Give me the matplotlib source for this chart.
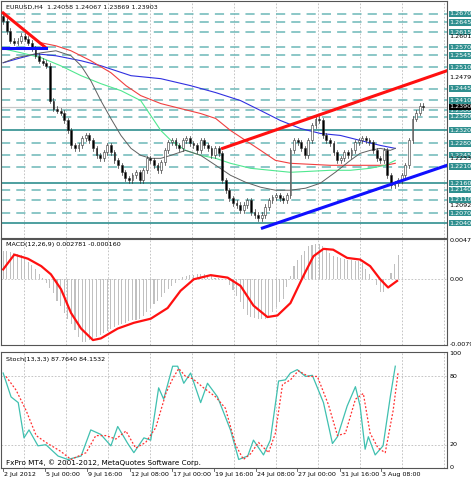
import matplotlib
matplotlib.use("Agg")
import matplotlib.pyplot as plt
import numpy as np

closes = [1.2649,1.2619,1.2589,1.2583,1.2589,1.2604,1.2595,1.2583,1.2565,1.2544,1.2529,1.2523,1.2514,1.2409,1.2385,1.2379,1.2373,1.2349,1.2319,1.2274,1.2265,1.2274,1.2295,1.2304,1.2289,1.2265,1.2244,1.2235,1.2253,1.2274,1.2253,1.2229,1.2214,1.2193,1.2175,1.2169,1.2184,1.2193,1.2169,1.2199,1.2235,1.2229,1.2214,1.2199,1.2223,1.2259,1.2283,1.2289,1.2274,1.2265,1.2289,1.2295,1.2280,1.2274,1.2259,1.2289,1.2274,1.2265,1.2244,1.2265,1.2250,1.2169,1.2139,1.2115,1.2100,1.2094,1.2079,1.2094,1.2109,1.2073,1.2064,1.2055,1.2064,1.2088,1.2109,1.2118,1.2124,1.2115,1.2109,1.2124,1.2259,1.2289,1.2283,1.2265,1.2244,1.2289,1.2334,1.2355,1.2349,1.2304,1.2289,1.2280,1.2253,1.2229,1.2235,1.2253,1.2244,1.2259,1.2283,1.2289,1.2295,1.2289,1.2283,1.2259,1.2235,1.2229,1.2259,1.2184,1.2154,1.2160,1.2169,1.2184,1.2214,1.2289,1.2355,1.2373,1.2394,1.2390]
first_open = 1.2665

ma_gray_x = [0,3.6,10.6,14.7,18.9,21.7,24.4,27.2,30,32.8,35.6,38.3,41.1,43.9,46.7,50.8,55,59.2,63.3,67.5,71.7,75.8,80,84.2,88.3,92.5,96.7,99.4,102.2,105,107.8,109.2]
ma_gray_y = [1.2523,1.2538,1.2553,1.2559,1.2544,1.2514,1.2469,1.2409,1.2355,1.2304,1.2265,1.2244,1.2235,1.2235,1.2244,1.2259,1.2244,1.2214,1.2184,1.2163,1.2148,1.2139,1.2139,1.2145,1.2160,1.2193,1.2229,1.2250,1.2259,1.2265,1.2259,1.2265]
ma_green_x = [0,5,10.6,16,21.7,27.2,32.8,38.3,41.1,43.9,46.7,50.8,55,59.2,63.3,68.9,74.4,80,85.6,91.1,96.7,102.2,106.4,109.2]
ma_green_y = [1.2565,1.2553,1.2538,1.2514,1.2484,1.2460,1.2439,1.2409,1.2364,1.2319,1.2289,1.2259,1.2244,1.2235,1.2220,1.2205,1.2199,1.2193,1.2196,1.2199,1.2199,1.2205,1.2214,1.2229]
ma_red_x = [10.6,14.7,18.9,24.4,30,34.2,38.3,43.9,49.4,55,59.2,63.3,67.5,71.7,75.8,80,85.6,91.1,96.7,102.2,106.4,109.2]
ma_red_y = [1.2583,1.2574,1.2559,1.2529,1.2493,1.2454,1.2424,1.2400,1.2385,1.2370,1.2355,1.2319,1.2289,1.2259,1.2229,1.2220,1.2217,1.2214,1.2214,1.2214,1.2214,1.2220]
ma_blue_x = [0,5,9.2,14.7,21.7,27.2,35.6,43.9,52.2,59.2,66.1,71.7,77.2,82.8,88.3,93.9,99.4,105,109.2]
ma_blue_y = [1.2523,1.2538,1.2550,1.2544,1.2529,1.2514,1.2484,1.2475,1.2454,1.2433,1.2409,1.2379,1.2349,1.2325,1.2310,1.2304,1.2289,1.2274,1.2265]

trend_red_down = ([0, 11.9], [1.2673, 1.2568])
trend_blue_flat = ([0, 11.9], [1.2568, 1.2568])
trend_red_up = ([61.1, 123.6], [1.2265, 1.2499])
trend_blue_up = ([72.2, 123.6], [1.2025, 1.2214])

dashed_levels = [1.2670,1.2645,1.2615,1.2570,1.2545,1.2510,1.2445,1.2410,1.2380,1.2360,1.2280,1.2245,1.2210,1.2140,1.2110,1.2070]
solid_levels = [1.2320,1.2160,1.2040]
scale_labels = [1.26015,1.24790,1.22330,1.20925]
last_price = 1.23903

macd_hist = [3.5,3.4,3.3,3.2,3.1,3.0,2.6,2.1,1.7,1.2,0.6,0.1,-0.5,-1.1,-1.7,-2.6,-3.3,-4.1,-4.8,-5.5,-6.2,-7.0,-7.6,-7.6,-7.4,-7.2,-7.0,-6.8,-6.6,-6.3,-6.1,-5.8,-5.6,-5.4,-5.3,-5.1,-5.0,-4.9,-4.8,-4.5,-4.0,-3.5,-3.0,-2.6,-2.1,-1.7,-1.2,-0.8,-0.4,0.0,0.3,0.4,0.5,0.5,0.6,0.6,0.6,0.5,0.4,0.2,0.1,0.05,0.0,-0.7,-1.3,-2.0,-2.8,-3.6,-4.4,-4.6,-4.7,-4.8,-4.8,-4.8,-4.7,-4.0,-3.4,-2.8,-2.4,-1.0,0.4,1.6,2.3,3.0,3.5,4.0,4.2,4.3,4.3,4.0,3.6,3.2,2.8,2.7,2.6,2.5,2.4,2.3,2.2,2.2,2.0,1.3,0.6,0.0,-0.7,-1.5,-1.5,0.0,0.8,1.8,3.0]
macd_sig_x = [0,3.1,6.9,10.6,13.3,16.1,18.9,21.7,25,27.2,31.9,36.4,41.1,45.8,49.4,53.1,57.8,62.5,66.1,69.7,73.6,76.4,80,83.6,86.4,89.2,91.9,95.8,99.4,102.2,105,107.2,109.7]
macd_sig_y = [1.2,3.0,2.5,1.6,0.6,-1.2,-4.1,-6.0,-7.4,-7.2,-6.0,-5.3,-4.8,-3.5,-1.4,0.0,0.5,0.2,-0.8,-3.2,-4.6,-4.4,-2.9,0.4,2.8,3.7,3.6,2.6,2.4,1.6,0.0,-1.0,-0.2]

stoch_k_x = [0,2.2,4.2,5.8,7.2,9.7,11.9,15.3,18,21.7,24.4,27.2,30,31.9,34.7,36.4,39.2,41.1,43.3,44.7,47.2,48.6,50.3,52.2,55,56.9,59.7,63.3,65.6,68.1,69.7,72.5,74.4,76.7,78.6,80,81.9,84.2,86.1,89.2,91.7,93.1,95.8,98.1,99.4,100.8,101.7,103.6,105.8,107.8,109.2]
stoch_k_y = [83,62,57,26,33,19,20,10,7,10,33,29,19,36,21,13,26,24,70,60,89,89,74,83,57,74,62,33,7,10,24,11,24,76,77,83,86,80,81,57,21,27,54,71,54,16,27,11,19,62,89]
stoch_d_x = [0.8,3.6,6.4,9.2,11.9,16.1,18.9,23.1,25.8,28.6,31.4,34.2,36.9,39.7,42.5,45.3,47.2,48.9,50.8,52.8,55.8,59.2,61.9,64.7,66.9,68.9,71.1,73.9,75.8,77.8,80,82.2,85,87.5,90.6,93.1,95.3,98.1,100.3,102.2,104.4,106.4,108.6,110]
stoch_d_y = [80,68,50,28,22,14,7,13,28,28,25,32,17,22,35,65,78,87,80,78,70,62,52,20,7,12,22,13,30,73,77,85,80,80,55,28,30,60,65,30,17,13,50,84]

date_ticks = [0,11.7,23.3,35.3,46.9,58.6,70.3,81.9,93.9,105.3]
date_labels = ["2 Jul 2012","5 Jul 00:00","9 Jul 16:00","12 Jul 08:00","17 Jul 00:00","19 Jul 16:00","24 Jul 08:00","27 Jul 00:00","31 Jul 16:00","3 Aug 08:00"]

W, H = 471, 480
fig = plt.figure(figsize=(W/100, H/100), dpi=100)
plt.rcParams['font.family'] = ['DejaVu Sans']
FS = 4.6
XL = (-0.6, 123.6)
TEAL = '#2f8f8f'
DASH = '#6cb8b8'
grid_x = [5.8 + 11.7*k for k in range(11)]

def ax_at(top, bottom):
    a = fig.add_axes([1/W, (H-bottom)/H, 446/W, (bottom-top)/H])
    a.set_xlim(*XL)
    a.set_xticks([]); a.set_yticks([])
    for s in a.spines.values():
        s.set_color('#555555'); s.set_linewidth(0.8)
    for gx in grid_x:
        a.axvline(gx, color='#bbbbbb', lw=0.6, ls=(0,(2,2)), zorder=0)
    return a

ax = ax_at(1, 238)
ax.set_ylim(1.1995, 1.2709)
for lv in dashed_levels:
    ax.axhline(lv, color=DASH, lw=1.1, ls=(0,(6,4)), zorder=1)
for lv in solid_levels:
    ax.axhline(lv, color=TEAL, lw=1.2, zorder=1)
ax.axhline(last_price, color='#c8c8c8', lw=0.9, zorder=1)
ax.plot(ma_blue_x, ma_blue_y, color='#3030e0', lw=0.8, zorder=2)
ax.plot(ma_red_x, ma_red_y, color='#f04040', lw=0.8, zorder=2)
ax.plot(ma_green_x, ma_green_y, color='#50e890', lw=0.8, zorder=2)
ax.plot(ma_gray_x, ma_gray_y, color='#606060', lw=0.7, zorder=2)
opens = [first_open] + closes[:-1]
for i, (o, c) in enumerate(zip(opens, closes)):
    hi = max(o, c) + 0.0008; lo = min(o, c) - 0.0008
    ax.plot([i, i], [lo, hi], color='#333333', lw=0.5, zorder=3)
    col = 'white' if c >= o else 'black'
    ax.bar(i, max(abs(c-o), 0.00015), bottom=min(o, c), width=0.5, color=col,
           edgecolor='#333333', linewidth=0.4, zorder=4)
ax.plot(*trend_red_down, color='#ff1010', lw=2.2, zorder=5)
ax.plot(*trend_blue_flat, color='#1010ff', lw=2.2, zorder=5)
ax.plot(*trend_red_up, color='#ff1010', lw=2.2, zorder=5)
ax.plot(*trend_blue_up, color='#1010ff', lw=2.2, zorder=5)
ax.text(0.012, 0.985, "EURUSD,H4  1.24058 1.24067 1.23869 1.23903", transform=ax.transAxes,
        fontsize=FS, va='top', ha='left', color='#111111')
for lv in dashed_levels + solid_levels:
    ax.text(1.006, lv, f"{lv:.4f}", transform=ax.get_yaxis_transform(), fontsize=FS,
            color='white', va='center', ha='left', clip_on=False,
            bbox=dict(boxstyle='square,pad=0.12', fc=TEAL, ec='none'))
for lv in scale_labels:
    ax.text(1.006, lv, f"{lv:.5f}", transform=ax.get_yaxis_transform(), fontsize=FS,
            color='black', va='center', ha='left', clip_on=False)
ax.text(1.006, last_price, f"{last_price:.5f}", transform=ax.get_yaxis_transform(), fontsize=FS,
        color='white', va='center', ha='left', clip_on=False,
        bbox=dict(boxstyle='square,pad=0.12', fc='black', ec='none'))

am = ax_at(239, 345)
am.set_ylim(-8.0, 4.9)
am.axhline(0, color='#bbbbbb', lw=0.6, ls=(0,(2,2)), zorder=0)
am.bar(np.arange(len(macd_hist)), macd_hist, width=0.3, color='#c0c0c0', zorder=1)
am.plot(macd_sig_x, macd_sig_y, color='#ff1010', lw=1.6, zorder=2)
am.text(0.012, 0.97, "MACD(12,26,9) 0.002781 -0.000160", transform=am.transAxes,
        fontsize=FS, va='top', ha='left')
for v, t in [(4.736, "0.004736"), (0, "0.00"), (-7.958, "-0.007958")]:
    am.text(1.006, v, t, transform=am.get_yaxis_transform(), fontsize=FS, va='center', ha='left', clip_on=False)

ast = ax_at(352, 468)
ast.set_ylim(-0.5, 101.5)
for v in (20, 80):
    ast.axhline(v, color='#bbbbbb', lw=0.6, ls=(0,(2,2)), zorder=0)
ast.plot(stoch_k_x, stoch_k_y, color='#40c0b0', lw=0.9, zorder=2)
ast.plot(stoch_d_x, stoch_d_y, color='#ff3030', lw=0.9, ls=(0,(1.5,1.5)), zorder=3)
ast.text(0.012, 0.96, "Stoch(13,3,3) 87.7640 84.1532", transform=ast.transAxes, fontsize=FS, va='top', ha='left')
ast.text(0.012, 0.02, "FxPro MT4, © 2001-2012, MetaQuotes Software Corp.", transform=ast.transAxes,
         fontsize=FS+0.6, va='bottom', ha='left')
for v in (100, 80, 20, 0):
    ast.text(1.006, v, str(v), transform=ast.get_yaxis_transform(), fontsize=FS, va='center', ha='left', clip_on=False)
for t, l in zip(date_ticks, date_labels):
    ast.plot([t, t], [-0.5, -3.5], color='#555555', lw=0.6, clip_on=False)
    ast.text(t + 0.3, -4, l, fontsize=FS, va='top', ha='left', clip_on=False)

fig.savefig("out.png", dpi=100, facecolor='white')
